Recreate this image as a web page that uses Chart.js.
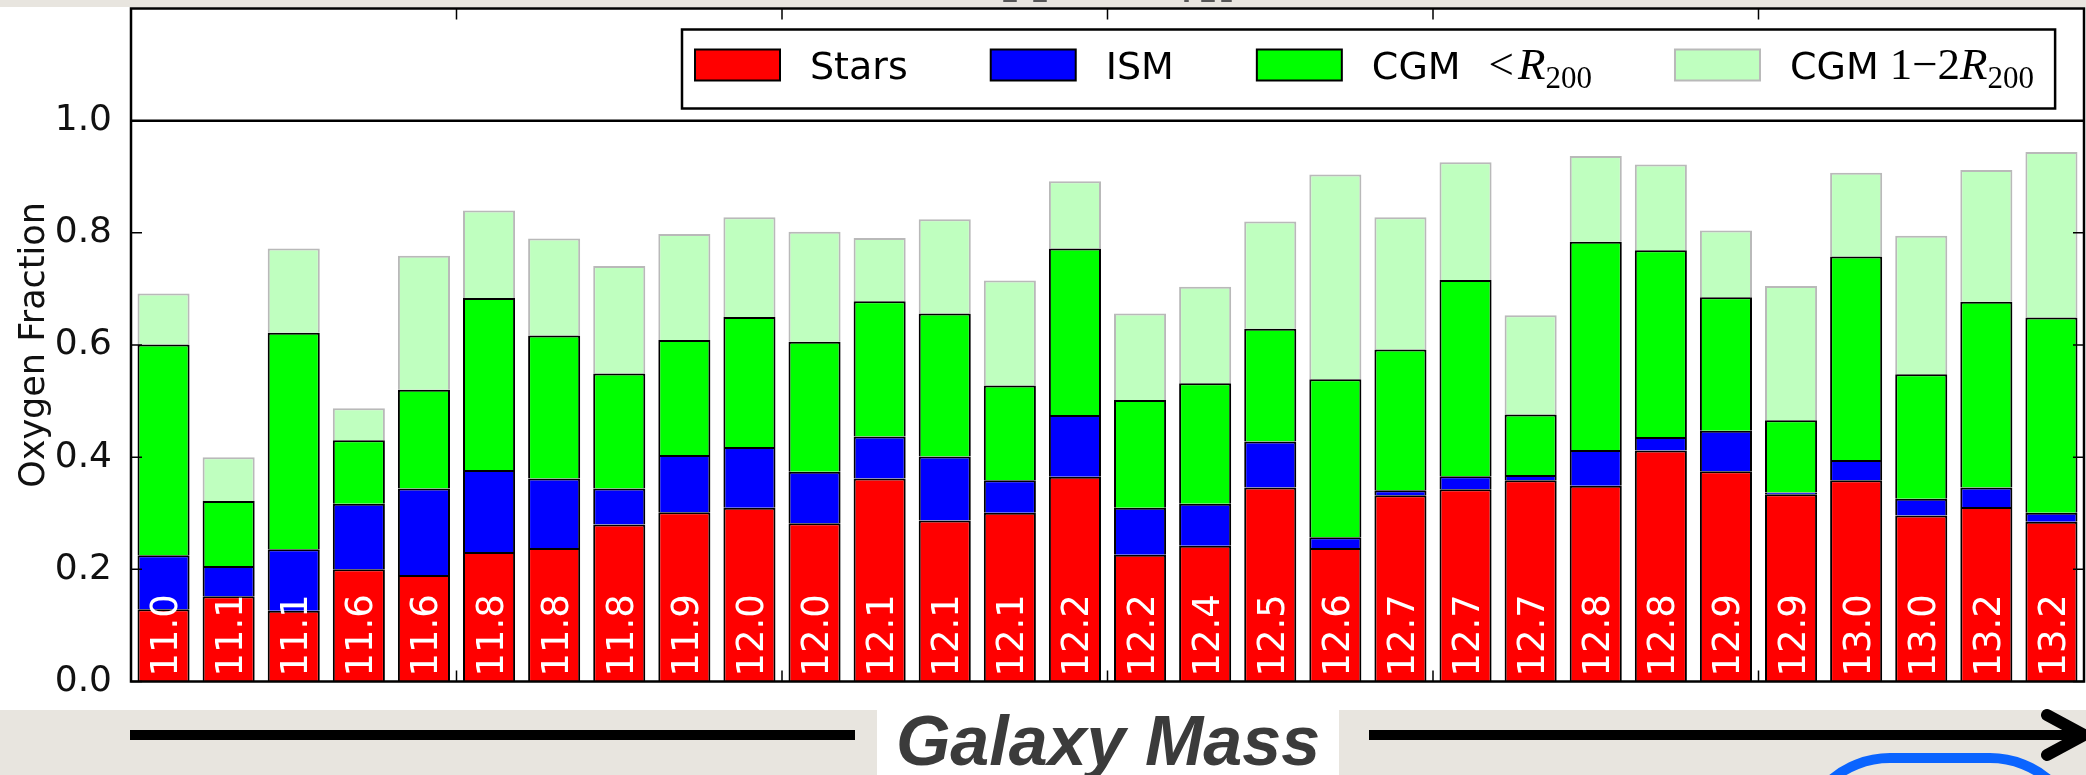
<!DOCTYPE html>
<html>
<head>
<meta charset="utf-8">
<script src="https://cdn.jsdelivr.net/npm/chart.js@4.4.1/dist/chart.umd.min.js"></script>
<style>
  html, body { margin: 0; padding: 0; }
  body {
    width: 2086px; height: 775px; position: relative; overflow: hidden;
    background: #e8e5df; font-family: "DejaVu Sans", sans-serif;
  }
  #sheet { position: absolute; left: 0; top: 7px; width: 2086px; height: 703px; background: #fff; }
  #wrap { position: absolute; left: 0; top: 0; width: 2086px; height: 775px; }
  #overlay { position: absolute; left: 0; top: 0; }
  .crumb { position: absolute; top: 0; height: 2px; background: #555; border-radius: 1px; }
</style>
</head>
<body>
<div id="sheet"></div>
<div class="crumb" style="left:1003px;width:14px"></div>
<div class="crumb" style="left:1033px;width:14px"></div>
<div class="crumb" style="left:1184px;width:5px"></div>
<div class="crumb" style="left:1201px;width:14px"></div>
<div class="crumb" style="left:1221px;width:11px"></div>
<div id="wrap"><canvas id="chart"></canvas></div>
<svg id="overlay" width="2086" height="775" xmlns="http://www.w3.org/2000/svg">
  <rect x="877" y="683" width="462" height="92" fill="#ffffff"/>
  <text x="1108" y="765" text-anchor="middle" font-family="Liberation Sans" font-weight="bold"
        font-style="italic" font-size="70" fill="#3b3b3b">Galaxy Mass</text>
  <line x1="130" y1="735" x2="855" y2="735" stroke="#000" stroke-width="10"/>
  <line x1="1369" y1="735" x2="2082" y2="735" stroke="#000" stroke-width="10"/>
  <polyline points="2047,715 2084,735 2047,755" fill="none" stroke="#000" stroke-width="12"
            stroke-linecap="round" stroke-linejoin="round"/>
  <rect x="1800" y="758" width="280" height="260" rx="90" ry="90" fill="none" stroke="#0a64ff" stroke-width="10"/>
</svg>
<script>
// log10 halo mass of each galaxy, printed inside its bar
const massLabels = ['11.0','11.1','11.1','11.6','11.6','11.8','11.8','11.8','11.9','12.0',
                    '12.0','12.1','12.1','12.1','12.2','12.2','12.4','12.5','12.6','12.7',
                    '12.7','12.7','12.8','12.8','12.9','12.9','13.0','13.0','13.2','13.2'];

// oxygen mass fraction held in each component (stacked bottom to top)
const starsFrac = [0.129,0.152,0.126,0.200,0.190,0.231,0.238,0.280,0.302,0.310,
                   0.282,0.362,0.287,0.301,0.365,0.226,0.242,0.346,0.238,0.332,
                   0.343,0.359,0.349,0.412,0.375,0.334,0.359,0.296,0.311,0.285];
const ismFrac = [0.096,0.054,0.110,0.117,0.154,0.146,0.124,0.064,0.102,0.108,
                 0.092,0.075,0.114,0.058,0.110,0.084,0.075,0.082,0.019,0.009,
                 0.023,0.009,0.064,0.024,0.072,0.003,0.036,0.030,0.035,0.016];
const cgmInnerFrac = [0.376,0.116,0.386,0.113,0.176,0.307,0.255,0.205,0.205,0.232,
                      0.232,0.241,0.255,0.169,0.297,0.192,0.215,0.201,0.282,0.251,
                      0.350,0.108,0.371,0.333,0.238,0.129,0.363,0.222,0.331,0.348];
const cgmOuterFrac = [0.091,0.078,0.150,0.057,0.239,0.156,0.173,0.192,0.189,0.178,
                      0.196,0.113,0.168,0.187,0.120,0.154,0.172,0.191,0.365,0.236,
                      0.210,0.177,0.153,0.153,0.119,0.239,0.149,0.247,0.235,0.295];

const yTickValues = [0.0, 0.2, 0.4, 0.6, 0.8, 1.0];
const yMax = 1.2;
const xTickEvery = 5;
const yTitle = 'Oxygen Fraction';

// legend entries: plain text plus math pieces (R_200 etc.)
const legendEntries = [
  [{ t: 'Stars', f: 'sans' }],
  [{ t: 'ISM', f: 'sans' }],
  [{ t: 'CGM', f: 'sans' }, { gap: 28 }, { t: '<', f: 'math' }, { gap: 4 }, { t: 'R', f: 'mathi' }, { t: '200', f: 'sub' }],
  [{ t: 'CGM', f: 'sans' }, { gap: 11 }, { t: '1\u22122', f: 'math' }, { t: 'R', f: 'mathi' }, { t: '200', f: 'sub' }]
];

const FONTS = {
  sans: { font: '38px "DejaVu Sans"', dy: 0 },
  math: { font: '45px "Liberation Serif"', dy: 0 },
  mathi: { font: 'italic 45px "Liberation Serif"', dy: 0 },
  sub: { font: '31px "Liberation Serif"', dy: 9 }
};

const edge = { top: 2, left: 2, right: 2, bottom: 0 };

// axes frame, inward tick marks and the reference line at 1.0
const framePlugin = {
  id: 'frame',
  afterDatasetsDraw(chart) {
    const { ctx, chartArea: a, scales: { x, y } } = chart;
    ctx.save();
    ctx.strokeStyle = '#000';
    ctx.lineWidth = 1.5;
    ctx.beginPath();
    yTickValues.forEach(v => {
      const py = y.getPixelForValue(v);
      ctx.moveTo(a.left, py); ctx.lineTo(a.left + 11, py);
      ctx.moveTo(a.right, py); ctx.lineTo(a.right - 11, py);
    });
    const n = chart.data.labels.length;
    const step = (x.right - x.left) / n;
    for (let k = xTickEvery; k < n; k += xTickEvery) {
      const px = x.left + k * step;
      ctx.moveTo(px, a.top); ctx.lineTo(px, a.top + 11);
      ctx.moveTo(px, a.bottom); ctx.lineTo(px, a.bottom - 11);
    }
    ctx.stroke();
    ctx.lineWidth = 2.5;
    const p1 = y.getPixelForValue(1.0);
    ctx.beginPath();
    ctx.moveTo(a.left, p1); ctx.lineTo(a.right, p1);
    ctx.stroke();
    ctx.strokeRect(a.left, a.top, a.right - a.left, a.bottom - a.top);
    ctx.restore();
  }
};

// white mass labels written upward inside each bar
const barLabelPlugin = {
  id: 'barLabels',
  afterDatasetsDraw(chart) {
    const { ctx, scales: { x, y } } = chart;
    ctx.save();
    ctx.font = '37px "DejaVu Sans"';
    ctx.fillStyle = '#ffffff';
    ctx.textAlign = 'left';
    ctx.textBaseline = 'alphabetic';
    const base = y.getPixelForValue(0) - 5;
    chart.data.labels.forEach((lab, i) => {
      const px = x.getPixelForValue(i);
      ctx.save();
      ctx.translate(px + 13.5, base);
      ctx.rotate(-Math.PI / 2);
      ctx.fillText(lab, 0, 0);
      ctx.restore();
    });
    ctx.restore();
  }
};

// boxed legend in the strip above the 1.0 line
const legendPlugin = {
  id: 'boxLegend',
  afterDraw(chart) {
    const { ctx, chartArea: a } = chart;
    const sw = 85, sh = 31, handlePad = 30, colGap = 83;
    const boxTop = a.top + 21, boxH = 79;
    const left0 = 682, pad = 13;
    const baseY = boxTop + 49;
    const widths = legendEntries.map(parts => parts.reduce((s, p) => {
      if (p.gap) return s + p.gap;
      ctx.font = FONTS[p.f].font;
      return s + ctx.measureText(p.t).width;
    }, 0));
    let total = pad;
    widths.forEach((w, i) => { total += sw + handlePad + w + (i < widths.length - 1 ? colGap : 0); });
    total += 21;
    ctx.save();
    ctx.fillStyle = '#fff';
    ctx.fillRect(left0, boxTop, total, boxH);
    ctx.strokeStyle = '#000';
    ctx.lineWidth = 2.5;
    ctx.strokeRect(left0, boxTop, total, boxH);
    let cx = left0 + pad;
    chart.data.datasets.forEach((ds, i) => {
      const sy = boxTop + 20;
      ctx.fillStyle = ds.backgroundColor;
      ctx.fillRect(cx, sy, sw, sh);
      ctx.strokeStyle = ds.borderColor;
      ctx.lineWidth = 2;
      ctx.strokeRect(cx, sy, sw, sh);
      cx += sw + handlePad;
      ctx.fillStyle = '#000';
      ctx.textBaseline = 'alphabetic';
      ctx.textAlign = 'left';
      legendEntries[i].forEach(p => {
        if (p.gap) { cx += p.gap; return; }
        ctx.font = FONTS[p.f].font;
        ctx.fillText(p.t, cx, baseY + FONTS[p.f].dy);
        cx += ctx.measureText(p.t).width;
      });
      cx += colGap;
    });
    ctx.restore();
  }
};

Chart.defaults.font.family = '"DejaVu Sans"';

new Chart(document.getElementById('chart'), {
  type: 'bar',
  data: {
    labels: massLabels,
    datasets: [
      { label: 'Stars', data: starsFrac, backgroundColor: '#ff0000', borderColor: '#000000' },
      { label: 'ISM', data: ismFrac, backgroundColor: '#0000ff', borderColor: '#000000' },
      { label: 'CGM <R200', data: cgmInnerFrac, backgroundColor: '#00ff00', borderColor: '#000000' },
      { label: 'CGM 1-2R200', data: cgmOuterFrac, backgroundColor: '#bfffbf', borderColor: '#b9b9b9' }
    ]
  },
  options: {
    responsive: true,
    maintainAspectRatio: false,
    devicePixelRatio: 1,
    animation: false,
    datasets: {
      bar: { barPercentage: 0.8, categoryPercentage: 1.0, borderWidth: edge, borderSkipped: false }
    },
    layout: { padding: { left: 0, top: 8.5, right: 2, bottom: 93.5 } },
    plugins: { legend: { display: false }, tooltip: { enabled: false } },
    scales: {
      x: { stacked: true, display: false },
      y: {
        stacked: true,
        min: 0,
        max: yMax,
        afterBuildTicks(scale) { scale.ticks = yTickValues.map(v => ({ value: v })); },
        afterFit(scale) {
          scale.width = 131;
          scale.paddingTop = 0;
          scale.paddingBottom = 0;
        },
        grid: { display: false },
        border: { display: false },
        ticks: {
          padding: 11,
          color: '#111',
          font: { family: 'DejaVu Sans', size: 36 },
          callback: v => Number(v).toFixed(1)
        },
        title: {
          display: true,
          text: yTitle,
          color: '#111',
          font: { family: 'DejaVu Sans', size: 35 },
          padding: { top: 14, bottom: 0 }
        }
      }
    }
  },
  plugins: [framePlugin, barLabelPlugin, legendPlugin]
});
</script>
</body>
</html>
